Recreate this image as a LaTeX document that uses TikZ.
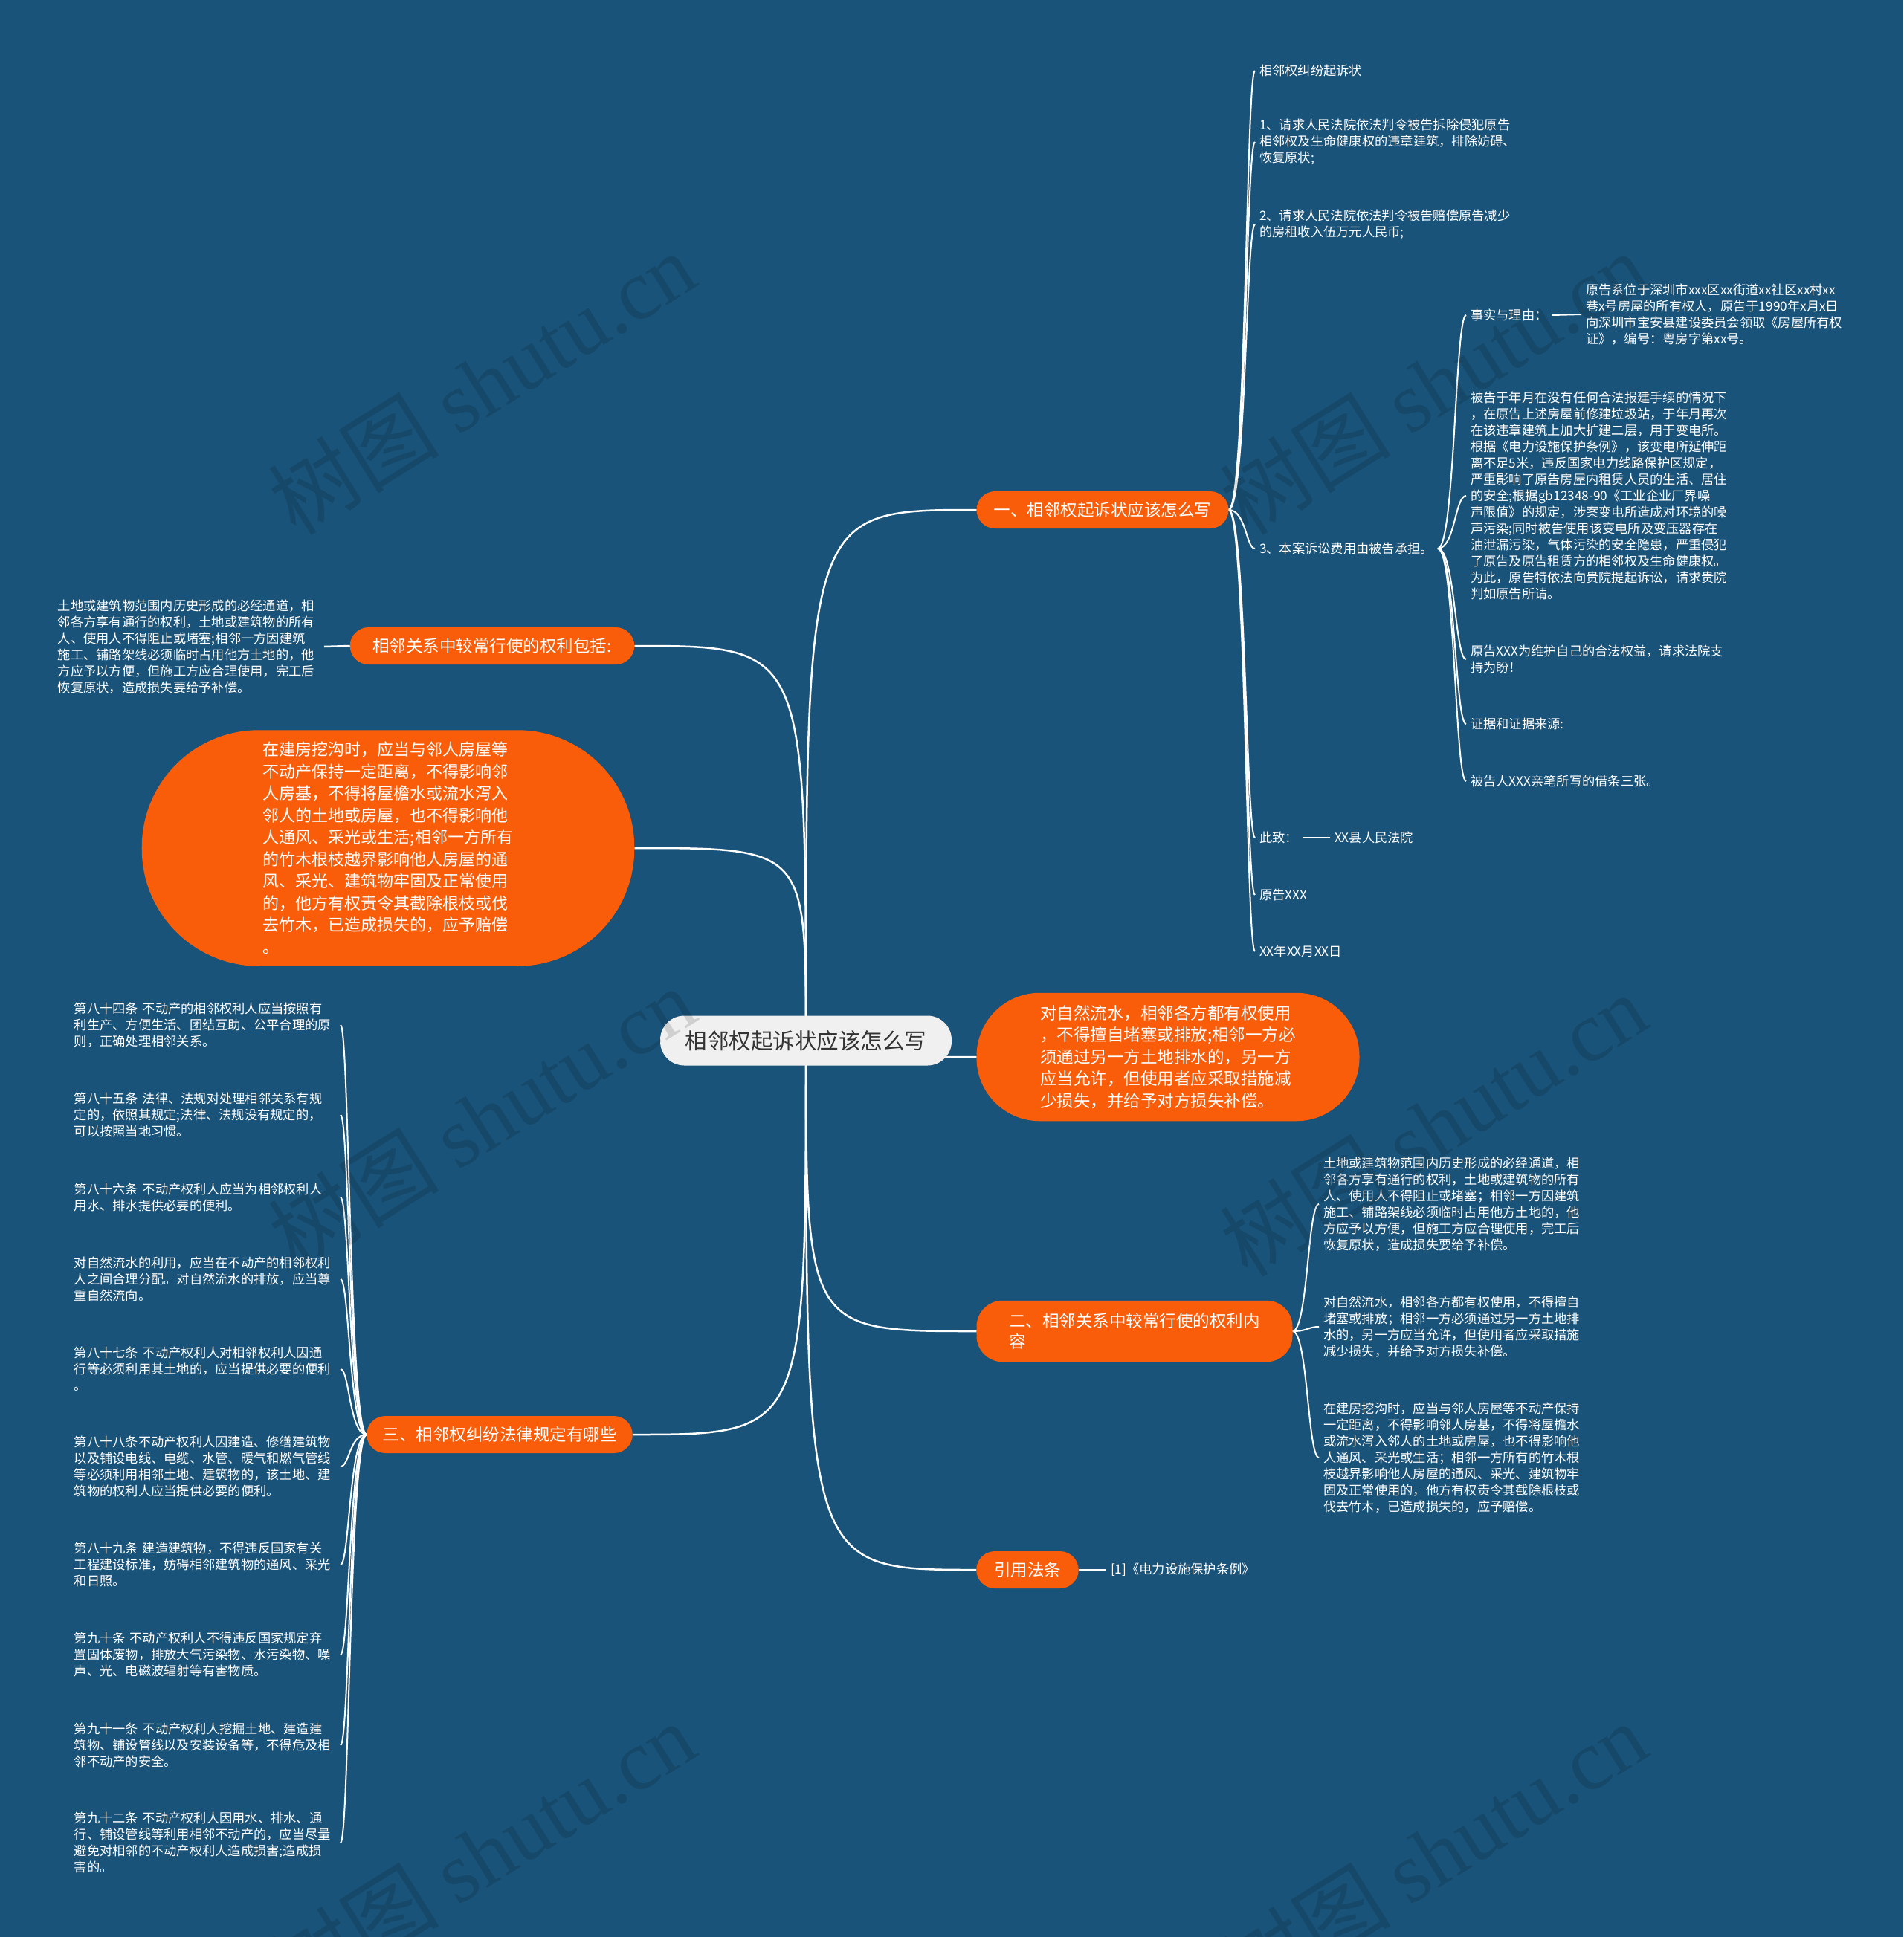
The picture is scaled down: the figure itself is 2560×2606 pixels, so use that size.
\documentclass[tikz,border=0pt]{standalone}
\usepackage{fontspec}
\setmainfont{Noto Sans CJK SC}
\newfontfamily\wmfont{Liberation Serif}
\usetikzlibrary{backgrounds,calc}
\definecolor{bg}{RGB}{26,83,121}
\definecolor{org}{RGB}{249,93,10}
\definecolor{ctrfill}{RGB}{240,240,240}
\definecolor{ctrtext}{RGB}{51,51,51}
\begin{document}
\begin{tikzpicture}[x=0.4pt,y=-0.4pt,
  every node/.style={inner sep=0pt, outer sep=0pt},
  small/.style={font=\fontsize{6.9}{8.8}\selectfont, text=white, align=left, inner xsep=2.4pt, inner ysep=0pt},
  rtxt/.style={small, anchor=west},
  ltxt/.style={small, anchor=east, text width=140.8pt},
  onode/.style={fill=org, text=white, font=\fontsize{9}{12}\selectfont, rounded corners=10pt, minimum height=20pt},
  bignode/.style={fill=org, text=white, font=\fontsize{8.8}{11.8}\selectfont, align=left},
  ctrnode/.style={fill=ctrfill, text=ctrtext, font=\fontsize{11.8}{14}\selectfont, rounded corners=13pt, minimum width=156.8pt, minimum height=26.8pt},
  mainline/.style={draw=white, line width=1pt},
  brc/.style={draw=white, line width=0.8pt},
  wm/.style={font=\fontsize{46}{50}\selectfont, text=black, text opacity=0.13, rotate=32}
]
\useasboundingbox (0,0) rectangle (2560,2606);

% ---------- main nodes ----------
\node[ctrnode] (ctr) at (1084,1400) {相邻权起诉状应该怎么写};
\node[onode, minimum width=135.6pt] (n1) at (1483,686) {一、相邻权起诉状应该怎么写};
\node[onode, minimum width=153pt] (nl1) at (662,869) {相邻关系中较常行使的权利包括:};
\node[bignode, minimum width=265pt, minimum height=127pt, rounded corners=63pt] (nl2) at (522,1141)
 {在建房挖沟时，应当与邻人房屋等\\不动产保持一定距离，不得影响邻\\人房基，不得将屋檐水或流水泻入\\邻人的土地或房屋，也不得影响他\\人通风、采光或生活;相邻一方所有\\的竹木根枝越界影响他人房屋的通\\风、采光、建筑物牢固及正常使用\\的，他方有权责令其截除根枝或伐\\去竹木，已造成损失的，应予赔偿\\。};
\node[bignode, font=\fontsize{9}{11.8}\selectfont, minimum width=206pt, minimum height=69pt, rounded corners=34pt] (nr1) at (1571,1422)
 {对自然流水，相邻各方都有权使用\\，不得擅自堵塞或排放;相邻一方必\\须通过另一方土地排水的，另一方\\应当允许，但使用者应采取措施减\\少损失，并给予对方损失补偿。};
\node[onode, align=left, minimum width=170pt, minimum height=33pt, rounded corners=14pt, font=\fontsize{9}{11.5}\selectfont] (n2) at (1526,1791) {二、相邻关系中较常行使的权利内\\容};
\node[onode, minimum width=55pt] (n3) at (1382,2112) {引用法条};
\node[onode, minimum width=143pt] (nl3) at (672,1930) {三、相邻权纠纷法律规定有哪些};

% ---------- branch one ----------
\node[rtxt] (a1) at (1688,95) {相邻权纠纷起诉状};
\node[rtxt] (a2) at (1688,191) {1、请求人民法院依法判令被告拆除侵犯原告\\相邻权及生命健康权的违章建筑，排除妨碍、\\恢复原状;};
\node[rtxt] (a3) at (1688,302) {2、请求人民法院依法判令被告赔偿原告减少\\的房租收入伍万元人民币;};
\node[rtxt] (a4) at (1688,738) {3、本案诉讼费用由被告承担。};
\node[rtxt] (a5) at (1688,1127) {此致：};
\node[rtxt] (a5a) at (1789,1127) {XX县人民法院};
\node[rtxt] (a6) at (1688,1204) {原告XXX};
\node[rtxt] (a7) at (1688,1280) {XX年XX月XX日};

\node[rtxt] (b1) at (1972,424) {事实与理由：};
\node[rtxt] (b1a) at (2127,423) {原告系位于深圳市xxx区xx街道xx社区xx村xx\\巷x号房屋的所有权人，原告于1990年x月x日\\向深圳市宝安县建设委员会领取《房屋所有权\\证》，编号：粤房字第xx号。};
\node[rtxt] (b2) at (1972,667) {被告于年月在没有任何合法报建手续的情况下\\，在原告上述房屋前修建垃圾站，于年月再次\\在该违章建筑上加大扩建二层，用于变电所。\\根据《电力设施保护条例》，该变电所延伸距\\离不足5米，违反国家电力线路保护区规定，\\严重影响了原告房屋内租赁人员的生活、居住\\的安全;根据gb12348-90《工业企业厂界噪\\声限值》的规定，涉案变电所造成对环境的噪\\声污染;同时被告使用该变电所及变压器存在\\油泄漏污染，气体污染的安全隐患，严重侵犯\\了原告及原告租赁方的相邻权及生命健康权。\\为此，原告特依法向贵院提起诉讼，请求贵院\\判如原告所请。};
\node[rtxt] (b3) at (1972,887) {原告XXX为维护自己的合法权益，请求法院支\\持为盼！};
\node[rtxt] (b4) at (1972,974) {证据和证据来源:};
\node[rtxt] (b5) at (1972,1051) {被告人XXX亲笔所写的借条三张。};

% ---------- left branch one ----------
\node[ltxt] (l1a) at (436,870) {土地或建筑物范围内历史形成的必经通道，相\\邻各方享有通行的权利，土地或建筑物的所有\\人、使用人不得阻止或堵塞;相邻一方因建筑\\施工、铺路架线必须临时占用他方土地的，他\\方应予以方便，但施工方应合理使用，完工后\\恢复原状，造成损失要给予补偿。};

% ---------- branch two ----------
\node[rtxt] (c1) at (1774,1620) {土地或建筑物范围内历史形成的必经通道，相\\邻各方享有通行的权利，土地或建筑物的所有\\人、使用人不得阻止或堵塞；相邻一方因建筑\\施工、铺路架线必须临时占用他方土地的，他\\方应予以方便，但施工方应合理使用，完工后\\恢复原状，造成损失要给予补偿。};
\node[rtxt] (c2) at (1774,1785) {对自然流水，相邻各方都有权使用，不得擅自\\堵塞或排放；相邻一方必须通过另一方土地排\\水的，另一方应当允许，但使用者应采取措施\\减少损失，并给予对方损失补偿。};
\node[rtxt] (c3) at (1774,1961) {在建房挖沟时，应当与邻人房屋等不动产保持\\一定距离，不得影响邻人房基，不得将屋檐水\\或流水泻入邻人的土地或房屋，也不得影响他\\人通风、采光或生活；相邻一方所有的竹木根\\枝越界影响他人房屋的通风、采光、建筑物牢\\固及正常使用的，他方有权责令其截除根枝或\\伐去竹木，已造成损失的，应予赔偿。};

\node[rtxt] (r1) at (1488,2112) {[1]《电力设施保护条例》};

% ---------- branch three ----------
\node[ltxt] (d1) at (458,1379) {第八十四条~不动产的相邻权利人应当按照有\\利生产、方便生活、团结互助、公平合理的原\\则，正确处理相邻关系。};
\node[ltxt] (d2) at (458,1500) {第八十五条~法律、法规对处理相邻关系有规\\定的，依照其规定;法律、法规没有规定的，\\可以按照当地习惯。};
\node[ltxt] (d3) at (458,1611) {第八十六条~不动产权利人应当为相邻权利人\\用水、排水提供必要的便利。};
\node[ltxt] (d4) at (458,1721) {对自然流水的利用，应当在不动产的相邻权利\\人之间合理分配。对自然流水的排放，应当尊\\重自然流向。};
\node[ltxt] (d5) at (458,1842) {第八十七条~不动产权利人对相邻权利人因通\\行等必须利用其土地的，应当提供必要的便利\\。};
\node[ltxt] (d6) at (458,1973) {第八十八条不动产权利人因建造、修缮建筑物\\以及铺设电线、电缆、水管、暖气和燃气管线\\等必须利用相邻土地、建筑物的，该土地、建\\筑物的权利人应当提供必要的便利。};
\node[ltxt] (d7) at (458,2105) {第八十九条~建造建筑物，不得违反国家有关\\工程建设标准，妨碍相邻建筑物的通风、采光\\和日照。};
\node[ltxt] (d8) at (458,2226) {第九十条~不动产权利人不得违反国家规定弃\\置固体废物，排放大气污染物、水污染物、噪\\声、光、电磁波辐射等有害物质。};
\node[ltxt] (d9) at (458,2348) {第九十一条~不动产权利人挖掘土地、建造建\\筑物、铺设管线以及安装设备等，不得危及相\\邻不动产的安全。};
\node[ltxt] (d10) at (458,2479) {第九十二条~不动产权利人因用水、排水、通\\行、铺设管线等利用相邻不动产的，应当尽量\\避免对相邻的不动产权利人造成损害;造成损\\害的。};

% brace x positions
\coordinate (xb1) at (1676,0);
\coordinate (xb2) at (1957,0);
\coordinate (xb3) at (1759,0);
\coordinate (xb4) at (470,0);

% ---------- background and connectors ----------
\begin{scope}[on background layer]
\fill[bg] (0,0) rectangle (2560,2606);
\foreach \t in {n1.west, nr1.west, n2.west, n3.west, nl1.east, nl2.east, nl3.east}
  \draw[mainline] (ctr.center) .. controls (ctr.center |- \t) .. (\t);
\foreach \c in {a1,a2,a3,a4,a5,a6,a7}
  \draw[brc] (n1.east) .. controls (n1.east -| xb1) and (\c.west -| xb1) .. (\c.west);
\foreach \c in {b1,b2,b3,b4,b5}
  \draw[brc] (a4.east) .. controls (a4.east -| xb2) and (\c.west -| xb2) .. (\c.west);
\foreach \c in {c1,c2,c3}
  \draw[brc] (n2.east) .. controls (n2.east -| xb3) and (\c.west -| xb3) .. (\c.west);
\foreach \c in {d1,d2,d3,d4,d5,d6,d7,d8,d9,d10}
  \draw[brc] (nl3.west) .. controls (nl3.west -| xb4) and (\c.east -| xb4) .. (\c.east);
\draw[brc] (b1.east) -- (b1a.west);
\draw[brc] (a5.east) -- (a5a.west);
\draw[brc] (n3.east) -- (r1.west);
\draw[mainline] (nl1.west) -- (l1a.east);
\end{scope}

% ---------- watermarks ----------
\foreach \p in {(648,515),(1928,515),(648,1504),(1928,1513),(648,2493),(1928,2493)}
  \node[wm] at \p {树图 {\wmfont shutu.cn}};
\end{tikzpicture}
\end{document}
